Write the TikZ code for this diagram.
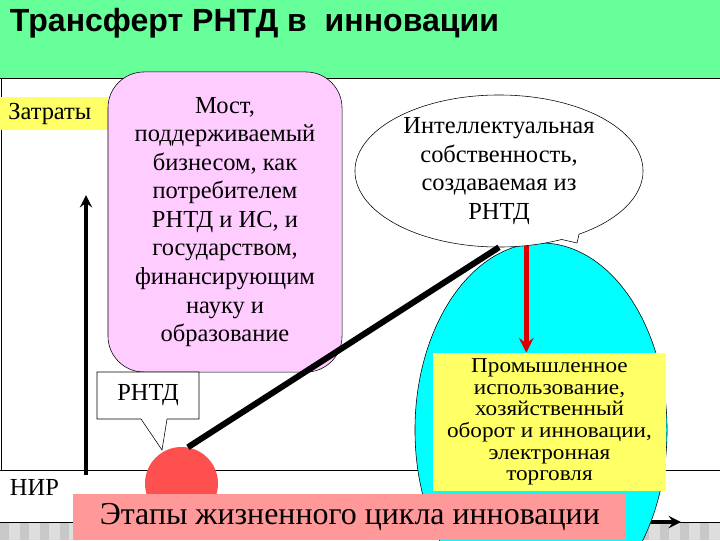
\documentclass[tikz,border=0pt]{standalone}
\usepackage{fontspec}
\setmainfont{Liberation Serif}
\newfontfamily\bodyfont{Liberation Serif}
\newfontfamily\widefont[FakeStretch=1.1]{Liberation Serif}
\newfontfamily\titlefont{Liberation Sans}
\usetikzlibrary{shapes.geometric,shapes.callouts}
\definecolor{headgreen}{RGB}{102,255,153}
\definecolor{bridgepink}{RGB}{255,204,255}
\definecolor{noteyellow}{RGB}{255,255,102}
\definecolor{usecyan}{RGB}{0,255,255}
\definecolor{spotred}{RGB}{255,80,80}
\definecolor{stagepink}{RGB}{255,153,153}
\definecolor{arrowred}{RGB}{220,0,0}
\definecolor{footgray}{RGB}{222,222,222}
\definecolor{stripegray}{RGB}{200,200,200}
\begin{document}
\begin{tikzpicture}[x=0.025cm, y=-0.025cm, >=stealth, every node/.style={font=\bodyfont\fontsize{17.4}{20.3}\selectfont}]
\useasboundingbox (0,0) rectangle (720,540);
% header
\fill[headgreen] (0,0) rectangle (720,78);
\node[anchor=west, font=\titlefont\bfseries\fontsize{22.8}{26}\selectfont] (title) at (5,23) {Трансферт РНТД в \ инновации};
% frame and axes
\draw[line width=0.7pt] (0,78) -- (720,78);
\draw[line width=0.7pt] (1,78) -- (1,470);
\draw[line width=0.7pt] (0,470) -- (720,470);
\fill[footgray] (0,523) rectangle (720,540);
\foreach \x in {0,20,...,700} {\fill[stripegray] (\x,523) rectangle ++(9,17);}
\draw[line width=0.7pt] (0,522) -- (720,522);
\coordinate (vbot) at (86,475);
\coordinate (vtop) at (86,195);
\coordinate (hbeg) at (560,522);
\coordinate (hend) at (681,522);
\draw[->, line width=2.8pt] (vbot) -- (vtop);
\draw[->, line width=2.8pt] (hbeg) -- (hend);
% market
\node[draw, ellipse, fill=usecyan, minimum width=6.3cm, minimum height=9.35cm, inner sep=0pt] (market) at (541,430) {};
\node[draw, ellipse callout, fill=white, minimum width=7.2cm, minimum height=3.8cm, inner sep=0pt, align=center, callout pointer arc=8, callout absolute pointer={(577,243)}] (ip) at (499,171) {Интеллектуальная\\собственность,\\создаваемая из\\РНТД};
\node[fill=noteyellow, minimum width=5.825cm, minimum height=3.45cm, inner sep=0pt, align=center, font=\widefont\fontsize{15}{15.4}\selectfont] (use) at (549.5,422) {Промышленное\\использование,\\хозяйственный\\оборот и инновации,\\электронная\\торговля};
\draw[->, arrowred, line width=3.5pt] (ip.-70) -- (ip.-70 |- use.north);
% left side
\node[fill=noteyellow, anchor=north west, minimum height=0.825cm, text width=2.3cm, inner xsep=0.2cm] (costs) at (0,97) {Затраты};
\node[draw, fill=bridgepink, rounded corners=0.9cm, minimum width=5.85cm, minimum height=7.5cm, inner sep=0pt, align=center] (bridge) at (225,222) {Мост,\\поддерживаемый\\бизнесом, как\\потребителем\\РНТД и ИС, и\\государством,\\финансирующим\\науку и\\образование};
\node[anchor=west] (nir) at (5,487) {НИР};
\node[circle, fill=spotred, minimum size=1.825cm, inner sep=0pt] (spot) at (181.5,483.5) {};
\node[draw, rectangle callout, fill=white, minimum width=2.55cm, minimum height=1.175cm, callout pointer width=0.65cm, callout absolute pointer={(162,450)}] (rntd) at (148,395.5) {РНТД};
\draw[line width=4.3pt] (spot.80) -- (ip.south);
% stages
\node[fill=stagepink, anchor=north west, minimum width=13.825cm, minimum height=1.15cm, font=\bodyfont\fontsize{22.7}{26}\selectfont] (stages) at (73,494) {Этапы жизненного цикла инновации};
\end{tikzpicture}
\end{document}
